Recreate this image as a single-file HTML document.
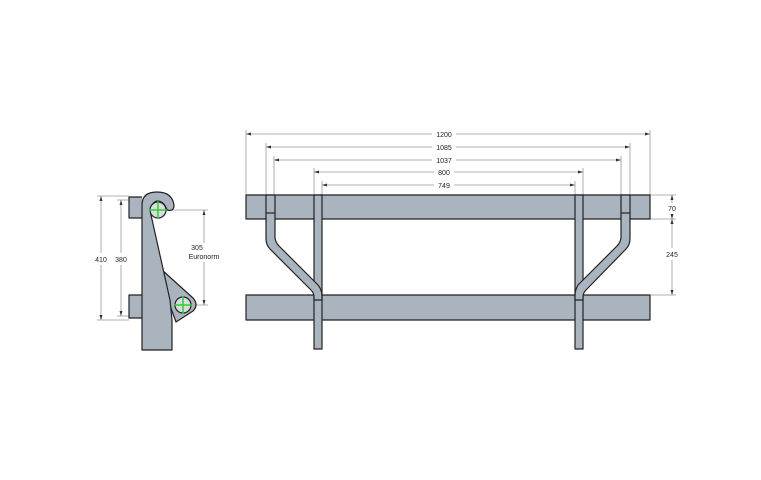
<!DOCTYPE html>
<html><head><meta charset="utf-8"><style>body{margin:0;background:#fff}svg{display:block}</style></head><body>
<svg width="761" height="480" viewBox="0 0 761 480" xmlns="http://www.w3.org/2000/svg" font-family="Liberation Sans, sans-serif">
<rect width="761" height="480" fill="#fff"/>
<g stroke="#999" stroke-width="0.8" fill="none">
<!-- top dims -->
<line x1="246" y1="134" x2="650" y2="134"/><line x1="266" y1="147" x2="630" y2="147"/>
<line x1="274" y1="160" x2="621" y2="160"/><line x1="314" y1="172" x2="583" y2="172"/>
<line x1="322" y1="185" x2="575" y2="185"/>
<line x1="246" y1="130" x2="246" y2="195"/><line x1="650" y1="130" x2="650" y2="195"/>
<line x1="266" y1="143" x2="266" y2="195"/><line x1="630" y1="143" x2="630" y2="195"/>
<line x1="274" y1="156" x2="274" y2="195"/><line x1="621" y1="156" x2="621" y2="195"/>
<line x1="314" y1="168" x2="314" y2="195"/><line x1="583" y1="168" x2="583" y2="195"/>
<line x1="322" y1="181" x2="322" y2="195"/><line x1="575" y1="181" x2="575" y2="195"/>
<!-- right dims -->
<line x1="650" y1="195" x2="676" y2="195"/><line x1="650" y1="219" x2="676" y2="219"/><line x1="650" y1="295" x2="676" y2="295"/>
<line x1="672" y1="195" x2="672" y2="203"/><line x1="672" y1="214" x2="672" y2="219"/>
<line x1="672" y1="219" x2="672" y2="248"/><line x1="672" y1="260" x2="672" y2="295"/>
<!-- side dims -->
<line x1="97" y1="196" x2="129" y2="196"/><line x1="97" y1="320" x2="129" y2="320"/>
<line x1="117" y1="200" x2="129" y2="200"/><line x1="117" y1="316" x2="129" y2="316"/>
<line x1="101" y1="196" x2="101" y2="253"/><line x1="101" y1="265" x2="101" y2="320"/>
<line x1="121" y1="200" x2="121" y2="253"/><line x1="121" y1="265" x2="121" y2="316"/>
<line x1="166" y1="210" x2="208" y2="210"/><line x1="190" y1="305" x2="208" y2="305"/>
<line x1="204" y1="210" x2="204" y2="243"/><line x1="204" y1="262" x2="204" y2="305"/>
</g>
<g fill="#333">
<path d="M246 134l5-1.5v3z"/><path d="M650 134l-5-1.5v3z"/>
<path d="M266 147l5-1.5v3z"/><path d="M630 147l-5-1.5v3z"/>
<path d="M274 160l5-1.5v3z"/><path d="M621 160l-5-1.5v3z"/>
<path d="M314 172l5-1.5v3z"/><path d="M583 172l-5-1.5v3z"/>
<path d="M322 185l5-1.5v3z"/><path d="M575 185l-5-1.5v3z"/>
<path d="M672 195l-1.5 5h3z"/><path d="M672 219l-1.5-5h3z"/><path d="M672 219l-1.5 5h3z"/><path d="M672 295l-1.5-5h3z"/>
<path d="M101 196l-1.5 5h3z"/><path d="M101 320l-1.5-5h3z"/>
<path d="M121 200l-1.5 5h3z"/><path d="M121 316l-1.5-5h3z"/>
<path d="M204 210l-1.5 5h3z"/><path d="M204 305l-1.5-5h3z"/>
</g>
<g font-size="7" fill="#222" text-anchor="middle">
<rect x="432" y="129" width="24" height="10" fill="#fff"/><text x="444" y="137">1200</text>
<rect x="432" y="142" width="24" height="10" fill="#fff"/><text x="444" y="150">1085</text>
<rect x="432" y="155" width="24" height="10" fill="#fff"/><text x="444" y="163">1037</text>
<rect x="434" y="167" width="20" height="10" fill="#fff"/><text x="444" y="175">800</text>
<rect x="434" y="180" width="20" height="10" fill="#fff"/><text x="444" y="188">749</text>
<text x="672" y="211">70</text><text x="672" y="257">245</text>
<text x="101" y="262">410</text><text x="121" y="262">380</text>
<text x="197" y="250">305</text><text x="204" y="259">Euronorm</text>
</g>
<g fill="#a9b4bf" stroke="#222" stroke-width="1.2" stroke-linejoin="round">
<rect x="246" y="195" width="404" height="24"/>
<rect x="246" y="295" width="404" height="25"/>
<rect x="314" y="195" width="8" height="154"/>
<rect x="575" y="195" width="8" height="154"/>
<path d="M266 195H275V237Q275 242 279 246L318 285Q322 290 322 296V300H314V297Q314 293 311 290L270 249Q266 245 266 238Z"/>
<path d="M630 195H621V237Q621 242 617 246L578 285Q575 290 575 296V300H583V297Q583 293 586 290L626 249Q630 245 630 238Z"/>
<line x1="266" y1="213" x2="275" y2="213"/><line x1="621" y1="213" x2="630" y2="213"/>
<!-- side view -->
<path d="M142 197H129V218H142"/>
<path d="M142 295H129V318H142"/>
<path d="M162 270L193 298Q199 305 193 311L176 322L168 300Z"/>
<path d="M142 350V205Q142 192 157 192Q172 192 174 205Q174 212 167 210Q164 201 157 201Q150 203 151 215L170 300L172 320V350Z"/>
</g>
<g stroke="#222" stroke-width="1.2" fill="#d8dde0">
<circle cx="158" cy="210" r="8"/><circle cx="183" cy="305" r="8"/>
</g>
<g stroke="#3c3" stroke-width="1.5">
<line x1="149" y1="210" x2="167" y2="210"/><line x1="158" y1="201" x2="158" y2="219"/>
<line x1="174" y1="305" x2="192" y2="305"/><line x1="183" y1="296" x2="183" y2="314"/>
</g>
</svg>
</body></html>
